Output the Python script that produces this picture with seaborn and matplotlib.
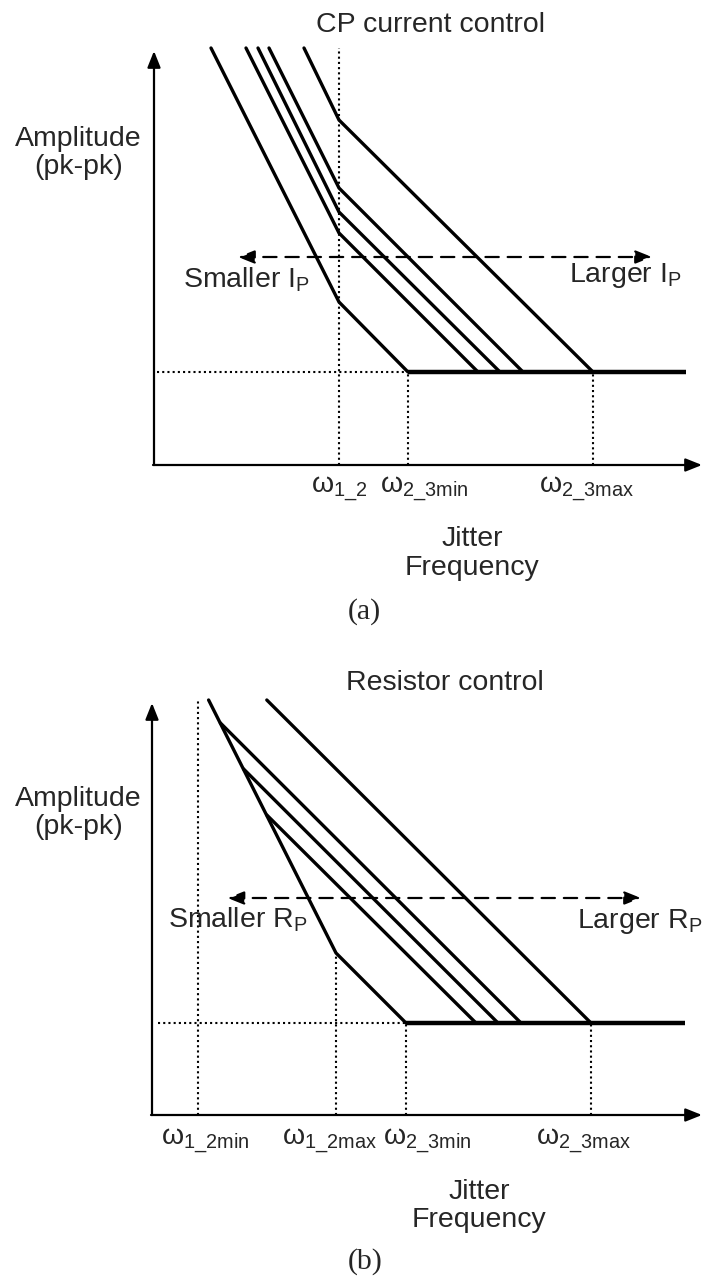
import numpy as np
import pandas as pd
import matplotlib
matplotlib.use("Agg")
import matplotlib.pyplot as plt
import seaborn as sns

# values are in arbitrary frequency / amplitude units (1 unit = 10 px on the sheet)

# --- panel (a): CP current control ---
a_ticks = [18.5, 25.4, 43.9]
a_tick_labels = [r"$\mathregular{ω_{1\_2}}$", r"$\mathregular{ω_{2\_3min}}$",
                 r"$\mathregular{ω_{2\_3max}}$"]
a_tick_shift = [0.0, 1.6, -0.6]
a_top = 41.7
a_floor = 9.3
a_floor_end = 53.2
a_top_x = [5.7, 9.2, 10.4, 11.5, 15.0]
a_break_y = [16.3, 23.2, 25.3, 27.7, 34.5]
a_end_x = [25.4, 32.4, 34.6, 36.9, 43.9]

# --- panel (b): Resistor control ---
b_ticks = [4.6, 18.4, 25.4, 43.9]
b_tick_labels = [r"$\mathregular{ω_{1\_2min}}$", r"$\mathregular{ω_{1\_2max}}$",
                 r"$\mathregular{ω_{2\_3min}}$", r"$\mathregular{ω_{2\_3max}}$"]
b_tick_shift = [0.7, -0.6, 2.1, -0.7]
b_top = 41.5
b_floor = 9.2
b_floor_end = 53.3
b_steep_x = [5.66, 18.4, 25.4]
b_steep_y = [41.5, 16.2, 9.2]
b_branch_x0 = [6.84, 9.16, 11.48]
b_branch_y0 = [39.2, 34.6, 30.0]
b_branch_x1 = [36.9, 34.6, 32.4]
b_far_x = [11.48, 43.9]
b_far_y = [41.5, 9.2]

sns.set_theme(style="white")
plt.rcParams["font.family"] = ["Liberation Sans", "DejaVu Sans"]

FS = 20.5
LW = 2.4


def build_df_a():
    rows = []
    for i in range(len(a_top_x)):
        pts = [(a_top_x[i], a_top), (a_ticks[0], a_break_y[i]), (a_end_x[i], a_floor)]
        for k, (x, y) in enumerate(pts):
            rows.append({"curve": i, "order": k, "freq": x, "amp": y})
    return pd.DataFrame(rows)


def build_df_b():
    rows = []
    for k, (x, y) in enumerate(zip(b_steep_x, b_steep_y)):
        rows.append({"curve": 0, "order": k, "freq": x, "amp": y})
    for i in range(len(b_branch_x0)):
        rows.append({"curve": i + 1, "order": 0, "freq": b_branch_x0[i], "amp": b_branch_y0[i]})
        rows.append({"curve": i + 1, "order": 1, "freq": b_branch_x1[i], "amp": b_floor})
    for k, (x, y) in enumerate(zip(b_far_x, b_far_y)):
        rows.append({"curve": 9, "order": k, "freq": x, "amp": y})
    return pd.DataFrame(rows)


def axis_arrows(ax, xmax, ymax):
    ap = dict(arrowstyle="-|>,head_length=0.55,head_width=0.22", lw=1.6, color="black",
              shrinkA=0, shrinkB=0, mutation_scale=18)
    ax.annotate("", xy=(0, ymax), xytext=(0, 0), arrowprops=ap, annotation_clip=False)
    ax.annotate("", xy=(xmax, 0), xytext=(-0.1, 0), arrowprops=ap, annotation_clip=False)


def dotted(ax, xs, ys):
    ax.plot(xs, ys, color="black", lw=1.5, ls=(0, (1, 1.5)), clip_on=False)


def dashed_arrow(ax, x0, x1, y):
    ap = dict(arrowstyle="<|-|>,head_length=0.55,head_width=0.22", lw=1.6, color="black",
              shrinkA=0, shrinkB=0, mutation_scale=18, linestyle=(0, (6, 4)))
    ax.annotate("", xy=(x1, y), xytext=(x0, y), arrowprops=ap, annotation_clip=False)


fig = plt.figure(figsize=(7.02, 12.77), dpi=100)
ax_a = fig.add_axes([0, 0.5, 1, 0.5])
ax_b = fig.add_axes([0, 0, 1, 0.5])

# ---------------- panel (a) ----------------
ax = ax_a
ax.set_xlim(-15.4, 54.8)
ax.set_ylim(-17.35, 46.5)
ax.axis("off")

dotted(ax, [a_ticks[0], a_ticks[0]], [0, a_top])
dotted(ax, [a_ticks[1], a_ticks[1]], [0, a_floor])
dotted(ax, [a_ticks[2], a_ticks[2]], [0, a_floor])
dotted(ax, [0.3, a_ticks[1]], [a_floor, a_floor])

sns.lineplot(data=build_df_a(), x="freq", y="amp", units="curve", estimator=None,
             sort=False, color="black", lw=LW, ax=ax, legend=False)
ax.plot([a_ticks[1], a_floor_end], [a_floor, a_floor], color="black", lw=3.2,
        solid_capstyle="butt")

axis_arrows(ax, 54.8, 41.4)
dashed_arrow(ax, 8.4, 49.8, 20.8)

ax.text(27.6, 44.0, "CP current control", ha="center", va="center", fontsize=FS)
ax.text(-13.9, 31.2, "Amplitude\n(pk-pk)", ha="left", va="center", fontsize=FS,
        multialignment="center", linespacing=1.05)
ax.text(9.25, 18.5, r"Smaller $\mathregular{I_P}$", ha="center", va="center", fontsize=FS)
ax.text(47.1, 18.9, r"Larger $\mathregular{I_P}$", ha="center", va="center", fontsize=FS)
for t, lab, dx in zip(a_ticks, a_tick_labels, a_tick_shift):
    ax.text(t + dx, -2.4, lab, ha="center", va="center", fontsize=FS)
ax.text(31.8, -8.85, "Jitter\nFrequency", ha="center", va="center", fontsize=FS,
        linespacing=1.12)
ax.text(21.0, -14.7, "(a)", ha="center", va="center", fontsize=21.5,
        family=["Liberation Serif", "DejaVu Serif"])

# ---------------- panel (b) ----------------
ax = ax_b
ax.set_xlim(-15.2, 55.0)
ax.set_ylim(-16.2, 47.65)
ax.axis("off")

dotted(ax, [b_ticks[0], b_ticks[0]], [0, 41.4])
dotted(ax, [b_ticks[1], b_ticks[1]], [0, b_steep_y[1]])
dotted(ax, [b_ticks[2], b_ticks[2]], [0, b_floor])
dotted(ax, [b_ticks[3], b_ticks[3]], [0, b_floor])
dotted(ax, [0.6, b_ticks[2]], [b_floor, b_floor])

sns.lineplot(data=build_df_b(), x="freq", y="amp", units="curve", estimator=None,
             sort=False, color="black", lw=LW, ax=ax, legend=False)
ax.plot([b_ticks[2], b_floor_end], [b_floor, b_floor], color="black", lw=3.2,
        solid_capstyle="butt")

axis_arrows(ax, 55.0, 41.2)
dashed_arrow(ax, 7.55, 48.9, 21.7)

ax.text(29.3, 43.2, "Resistor control", ha="center", va="center", fontsize=FS)
ax.text(-13.7, 30.2, "Amplitude\n(pk-pk)", ha="left", va="center", fontsize=FS,
        multialignment="center", linespacing=1.05)
ax.text(8.55, 19.5, r"Smaller $\mathregular{R_P}$", ha="center", va="center", fontsize=FS)
ax.text(42.5, 19.3, r"Larger $\mathregular{R_P}$", ha="left", va="center", fontsize=FS)
for t, lab, dx in zip(b_ticks, b_tick_labels, b_tick_shift):
    ax.text(t + dx, -2.6, lab, ha="center", va="center", fontsize=FS)
ax.text(32.7, -9.1, "Jitter\nFrequency", ha="center", va="center", fontsize=FS,
        linespacing=1.12)
ax.text(21.3, -14.7, "(b)", ha="center", va="center", fontsize=21.5,
        family=["Liberation Serif", "DejaVu Serif"])

fig.savefig("out.png", dpi=100)
